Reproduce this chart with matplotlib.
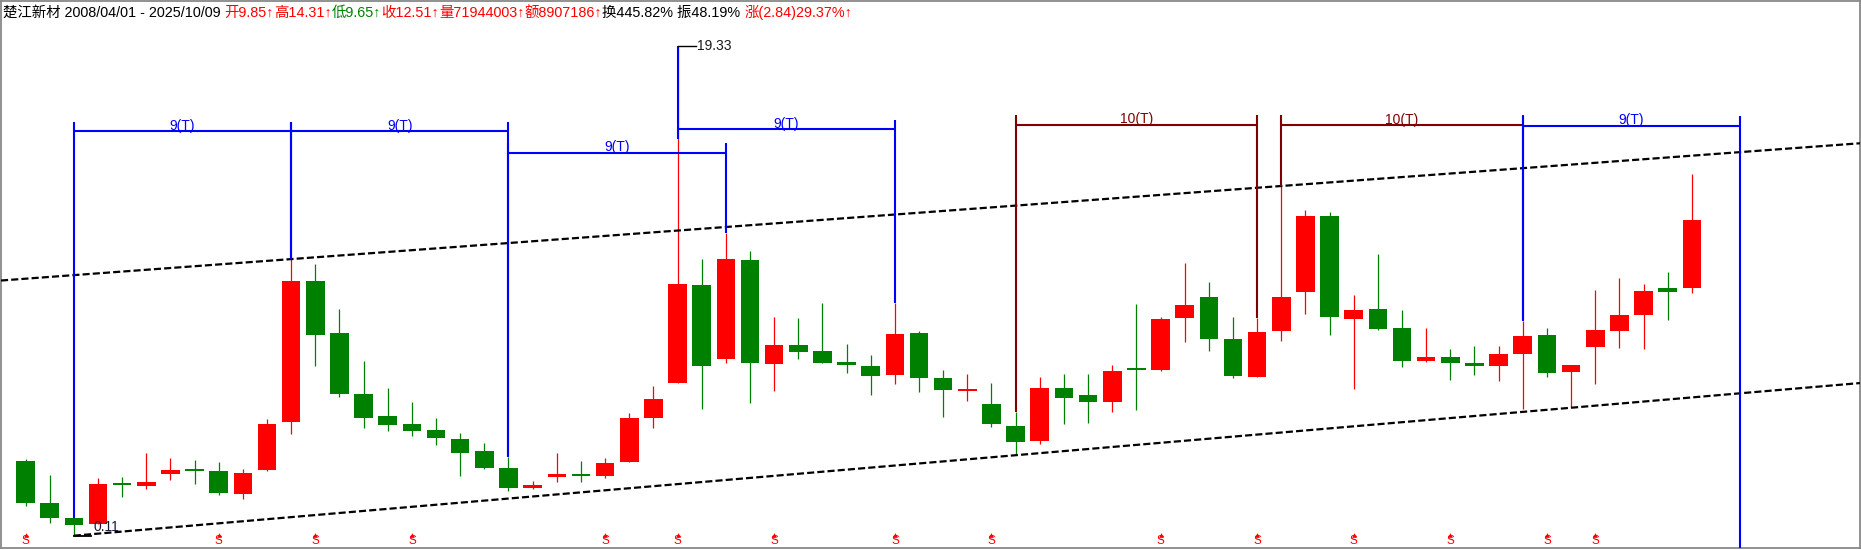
import matplotlib
matplotlib.use("Agg")
import matplotlib.pyplot as plt
from matplotlib.patches import Rectangle

plt.rcParams['font.family'] = ['Liberation Sans', 'Noto Sans CJK SC', 'DejaVu Sans']

# quarterly bars, 2008Q2 .. 2025Q4
opens = [3.04, 1.39, 0.79, 0.58, 2.19, 2.07, 2.54, 2.73, 2.65, 1.76,
         2.70, 4.59, 10.11, 8.07, 5.67, 4.81, 4.50, 4.26, 3.91, 3.44,
         2.77, 2.00, 2.43, 2.53, 2.47, 3.02, 4.74, 6.12, 9.95, 7.06,
         10.93, 6.86, 7.60, 7.36, 6.93, 6.77, 6.43, 8.07, 6.30, 5.80,
         5.28, 4.42, 3.84, 5.91, 5.63, 5.37, 6.67, 6.63, 8.67, 9.48,
         7.83, 6.35, 8.16, 9.69, 12.66, 8.63, 9.01, 8.27, 6.98, 7.13,
         6.89, 6.78, 7.26, 7.99, 6.55, 7.53, 8.16, 8.79, 9.84, 9.85]
highs = [3.12, 2.49, 0.81, 2.38, 2.42, 3.37, 3.16, 3.08, 3.00, 2.73,
         4.69, 10.97, 10.78, 9.01, 6.97, 5.91, 5.36, 4.73, 4.14, 3.75,
         3.21, 2.26, 3.36, 3.06, 3.16, 4.93, 5.99, 19.33, 10.97, 12.00,
         11.29, 8.70, 8.66, 9.25, 7.64, 7.21, 9.23, 8.15, 6.62, 6.46,
         6.11, 4.98, 6.34, 6.46, 6.46, 6.81, 9.21, 8.69, 10.82, 10.07,
         8.70, 8.65, 13.84, 12.90, 12.82, 9.56, 11.17, 8.97, 8.27, 7.44,
         7.56, 7.56, 8.55, 8.27, 6.81, 9.76, 10.23, 9.99, 10.46, 14.31]
lows = [1.28, 0.62, 0.11, 0.58, 1.64, 1.96, 2.31, 2.15, 1.71, 1.56,
        2.66, 4.12, 6.78, 5.57, 4.35, 4.23, 4.04, 3.68, 2.47, 2.74,
        1.88, 1.96, 2.23, 2.23, 2.39, 3.00, 4.35, 6.10, 5.08, 6.90,
        5.33, 5.79, 7.06, 6.90, 6.51, 5.65, 6.08, 5.76, 4.78, 5.41,
        4.39, 3.27, 3.72, 4.51, 4.55, 4.98, 5.06, 6.59, 7.73, 7.37,
        6.31, 6.35, 7.77, 8.83, 7.99, 5.88, 8.19, 6.75, 6.93, 6.22,
        6.42, 6.18, 5.08, 6.35, 5.18, 6.08, 7.49, 7.45, 8.58, 9.65]
closes = [1.41, 0.82, 0.54, 2.14, 2.11, 2.22, 2.69, 2.65, 1.80, 2.57,
          4.50, 10.11, 8.00, 5.69, 4.74, 4.47, 4.23, 3.96, 3.37, 2.78,
          2.00, 2.10, 2.53, 2.45, 2.96, 4.73, 5.48, 9.99, 6.78, 10.97,
          6.90, 7.60, 7.33, 6.90, 6.82, 6.39, 8.03, 6.31, 5.84, 5.83,
          4.51, 3.80, 5.91, 5.53, 5.37, 6.58, 6.63, 8.62, 9.17, 7.85,
          6.39, 8.11, 9.48, 12.66, 8.71, 8.97, 8.23, 6.98, 7.13, 6.90,
          6.78, 7.24, 7.95, 6.51, 6.81, 8.19, 8.78, 9.72, 9.67, 12.51]

# bars carrying the "$" signal
signal_bars = [0, 8, 12, 16, 24, 27, 31, 36, 40, 47, 51, 55, 59, 63, 65]

# time cycle spans: start bar, end bar, label, colour, height
spans = [
    (2, 11, "9(T)", "#0000ff", 15.98),
    (11, 20, "9(T)", "#0000ff", 15.98),
    (20, 29, "9(T)", "#0000ff", 15.15),
    (27, 36, "9(T)", "#0000ff", 16.06),
    (41, 51, "10(T)", "#800000", 16.25),
    (52, 62, "10(T)", "#800000", 16.22),
    (62, 71, "9(T)", "#0000ff", 16.21),
]

# channel anchors: (bar, price)
upper_pts = [(11, highs[11]), (52, highs[52])]
lower_pts = [(2, lows[2]), (41, lows[41])]

header = [
    ("楚江新材 2008/04/01 - 2025/10/09 ", "black"),
    ("开9.85↑", "red"),
    ("高14.31↑", "red"),
    ("低9.65↑", "green"),
    ("收12.51↑", "red"),
    ("量71944003↑", "red"),
    ("额8907186↑", "red"),
    ("换445.82% ", "black"),
    ("振48.19% ", "black"),
    ("涨(2.84)29.37%↑", "red"),
]

W, H = 1861, 550
fig = plt.figure(figsize=(W / 100, H / 100), dpi=100)
ax = fig.add_axes([1 / W, 2 / H, 1859 / W, 547 / H])
x0, x1 = -1.0145, 75.963
y0, y1 = -0.373, 21.103
ax.set_xlim(x0, x1)
ax.set_ylim(y0, y1)
ax.set_xticks([])
ax.set_yticks([])
for sp in ax.spines.values():
    sp.set_color("#888888")
    sp.set_linewidth(1.3)

UP, DOWN = "#ff0000", "#008000"
n = len(opens)
bw = 0.77
for i in range(n):
    o, h, l, c = opens[i], highs[i], lows[i], closes[i]
    col = UP if c >= o else DOWN
    ax.vlines(i, l, h, color=col, lw=0.9, zorder=2)
    bot = min(o, c)
    hgt = max(abs(c - o), 0.07)
    ax.add_patch(Rectangle((i - bw / 2, bot), bw, hgt, facecolor=col,
                           edgecolor="none", zorder=3))

# channel lines
dash = (0, (3.2, 1.4))
(ua, uy), (ub, uy2) = upper_pts
us = (uy2 - uy) / (ub - ua)
ax.plot([x0, x1], [uy + us * (x0 - ua), uy + us * (x1 - ua)],
        color="black", lw=1.6, ls=dash, zorder=5)
(la, ly), (lb, ly2) = lower_pts
ls_ = (ly2 - ly) / (lb - la)
ax.plot([la, x1], [ly, ly + ls_ * (x1 - la)],
        color="black", lw=1.6, ls=dash, zorder=5)

# cycle spans
tick = 0.39
for a, b, label, color, lvl in spans:
    ax.hlines(lvl, a, b, color=color, lw=1.5, zorder=6)
    for i in (a, b):
        end = highs[i] if i < n else y0
        if end < lvl:
            ax.vlines(i, end, lvl + tick, color=color, lw=1.5, zorder=6)
        else:
            ax.vlines(i, lvl - tick, end, color=color, lw=1.5, zorder=6)
    ax.text((a + b) / 2, lvl - 0.06, label, ha="center", va="bottom",
            color=color, fontsize=10, zorder=7)

# extreme price labels
imax = highs.index(max(highs))
imin = lows.index(min(lows))
ax.plot([imax, imax + 0.75], [highs[imax]] * 2, color="black", lw=1, zorder=7)
ax.text(imax + 0.82, highs[imax], f"{highs[imax]:.2f}", va="center",
        ha="left", fontsize=10, color="#1a1a1a")
ax.plot([imin, imin + 0.7], [lows[imin]] * 2, color="black", lw=1.3, zorder=7)
ax.text(imin + 0.8, lows[imin] + 0.06, f"{lows[imin]:.2f}", va="bottom",
        ha="left", fontsize=10, color="#1a1a3a")

# "$" signals along the bottom
tr = ax.get_xaxis_transform()
for i in signal_bars:
    ax.plot(i, 0.023, marker="^", ms=3.4, color="red", mec="none",
            transform=tr, zorder=8)
    ax.text(i, 0.012, "S", color="red", fontsize=8.5, ha="center",
            va="center", transform=tr, zorder=8)

# header line
fig.canvas.draw()
renderer = fig.canvas.get_renderer()
x = 3
for seg, col in header:
    t = fig.text(x / W, 1 - 16.7 / H, seg, color=col, fontsize=10.4,
                 va="baseline", ha="left")
    x += t.get_window_extent(renderer).width

fig.savefig("out.png", dpi=100)
